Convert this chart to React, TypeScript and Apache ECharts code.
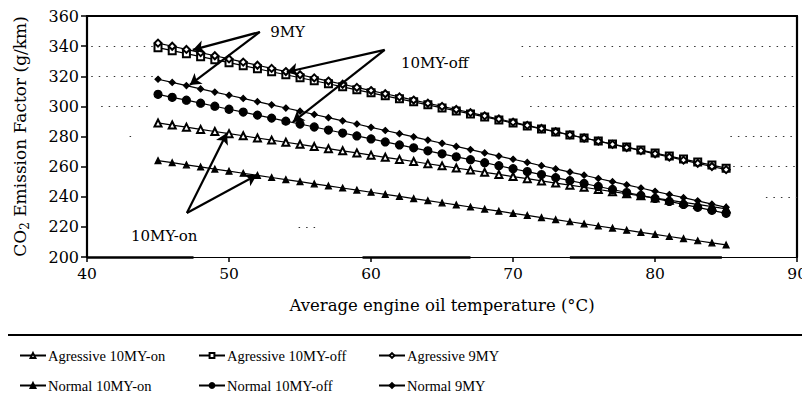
import React, { useEffect, useRef } from "react";
import * as echarts from "echarts";

const temps = [45,46,47,48,49,50,51,52,53,54,55,56,57,58,59,60,61,62,63,64,65,66,67,68,69,70,71,72,73,74,75,76,77,78,79,80,81,82,83,84,85];

const aggOn = [289,287.6,286.2,284.7,283.3,281.9,280.5,279,277.6,276.2,274.8,273.3,271.9,270.5,269.1,267.6,266.2,264.8,263.4,261.9,260.5,259.1,257.7,256.2,254.8,253.4,252,250.5,249.1,247.7,246.3,244.8,243.4,242,240.6,239.1,237.7,236.3,234.9,233.4,232];
const aggOff = [339,337,335,333,331,329,327,325,323,321,319,317,315,313,311,309,307,305,303,301,299,297,295,293,291,289,287,285,283,281,279,277,275,273,271,269,267,265,263,261,259];
const agg9 = [342,339.9,337.8,335.7,333.6,331.5,329.4,327.3,325.2,323.1,321,318.9,316.8,314.7,312.6,310.5,308.4,306.3,304.2,302.1,300,297.9,295.8,293.7,291.6,289.5,287.4,285.3,283.2,281.1,279,276.9,274.8,272.7,270.6,268.5,266.4,264.3,262.2,260.1,258];
const normOn = [264,262.6,261.2,259.8,258.4,257,255.6,254.2,252.8,251.4,250,248.6,247.2,245.8,244.4,243,241.6,240.2,238.8,237.4,236,234.6,233.2,231.8,230.4,229,227.6,226.2,224.8,223.4,222,220.6,219.2,217.8,216.4,215,213.6,212.2,210.8,209.4,208];
const normOff = [308,306,304.1,302.1,300.1,298.1,296.2,294.2,292.2,290.2,288.3,286.3,284.3,282.3,280.4,278.4,276.4,274.4,272.5,270.5,268.5,266.5,264.6,262.6,260.6,258.6,256.7,254.7,252.7,250.7,248.8,246.8,244.8,242.8,240.9,238.9,236.9,234.9,233,231,229];
const norm9 = [318,315.9,313.8,311.6,309.5,307.4,305.3,303.1,301,298.9,296.8,294.6,292.5,290.4,288.3,286.1,284,281.9,279.8,277.6,275.5,273.4,271.3,269.1,267,264.9,262.8,260.6,258.5,256.4,254.3,252.1,250,247.9,245.8,243.6,241.5,239.4,237.3,235.1,233];

const seriesNames = ["Agressive 10MY-on","Agressive 10MY-off","Agressive 9MY","Normal 10MY-on","Normal 10MY-off","Normal 9MY"];
const seriesValues = [aggOn, aggOff, agg9, normOn, normOff, norm9];
const seriesSymbols = ["emptyTriangle","emptyRect","emptyDiamond","triangle","circle","diamond"];
const seriesSymbolSizes = [7,7,7,6,8,6];

const xTicks = { min: 40, max: 90, interval: 10 };
const yTicks = { min: 200, max: 360, interval: 20 };

const annotations = [
  { label: "9MY", start: [52.17, 349.4], tips: [[47.45, 337.5], [47.24, 314.2]], at: [52.9, 349.3] },
  { label: "10MY-off", start: [60.96, 337.5], tips: [[54.07, 322.8], [54.49, 289.6]], at: [62.1, 329.0] },
  { label: "10MY-on", start: [47.03, 229.2], tips: [[49.85, 282.3], [51.95, 254.4]], at: [43.1, 214.0] },
];

const gridRemnants = [
  [340, 40.3, 44.7], [340, 70.6, 90], [320, 40.3, 44.7], [320, 70.6, 90],
  [300, 41.0, 44.3], [300, 71.2, 90], [280, 43.0, 43.2], [280, 85.3, 90],
  [260, 85.5, 90], [240, 87.8, 90], [220, 54.9, 56.2],
];
const axisSegments = [[40, 47.5], [59.4, 67.0], [74.0, 84.7]];

const FONT = "DejaVu Serif";
const LFONT = "Liberation Serif";

export default function App() {
  const ref = useRef<HTMLDivElement>(null);
  useEffect(() => {
    if (!ref.current) return;
    const chart = echarts.init(ref.current, undefined, { renderer: "svg" });
    const main = seriesNames.map((name, i) => ({
      name,
      type: "line",
      data: temps.map((t, j) => [t, seriesValues[i][j]]),
      symbol: seriesSymbols[i],
      symbolSize: seriesSymbolSizes[i],
      showAllSymbol: true,
      lineStyle: { color: "#000", width: 1.2 },
      itemStyle: { color: "#000", borderColor: "#000", borderWidth: 1.2 },
      emphasis: { disabled: true },
      z: 3,
    }));
    const arrowData: any[] = [];
    annotations.forEach((a) => {
      a.tips.forEach((tip) => arrowData.push([{ coord: a.start }, { coord: tip }]));
    });
    const extras: any[] = [
      {
        name: "_grid",
        type: "line",
        data: [],
        silent: true,
        markLine: {
          silent: true,
          symbol: "none",
          label: { show: false },
          animation: false,
          data: [
            ...gridRemnants.map((g) => [
              { coord: [g[1], g[0]], lineStyle: { type: [1.5, 6], width: 1, color: "#333" } },
              { coord: [g[2], g[0]] },
            ]),
            ...axisSegments.map((s) => [
              { coord: [s[0], 200], lineStyle: { type: "solid", width: 2.5, color: "#000" } },
              { coord: [s[1], 200] },
            ]),
          ],
        },
      },
      {
        name: "_arrows",
        type: "line",
        data: [],
        silent: true,
        markLine: {
          silent: true,
          symbol: ["none", "arrow"],
          symbolSize: [10, 11],
          label: { show: false },
          lineStyle: { type: "solid", width: 2.2, color: "#000" },
          animation: false,
          data: arrowData,
        },
        markPoint: {
          silent: true,
          symbol: "circle",
          symbolSize: 0,
          animation: false,
          label: {
            show: true,
            position: "right",
            distance: 0,
            color: "#000",
            fontFamily: FONT,
            fontSize: 15,
            formatter: (p: any) => p.name,
          },
          data: annotations.map((a) => ({ name: a.label, coord: a.at })),
        },
      },
    ];

    const legendCols = [0, 1, 2].map((c) => ({
      orient: "vertical",
      left: [14, 193, 373][c],
      top: 343,
      itemGap: 15,
      itemWidth: 26,
      itemHeight: 6,
      selectedMode: false,
      textStyle: { fontFamily: LFONT, fontSize: 14.5, color: "#000", padding: [0, 0, 0, -3] },
      data: [seriesNames[c], seriesNames[c + 3]],
    }));

    chart.setOption({
      animation: false,
      backgroundColor: "#fff",
      textStyle: { fontFamily: FONT },
      grid: { left: 87, right: 12, top: 16, bottom: 148, containLabel: false },
      legend: legendCols,
      xAxis: [
        {
          type: "value",
          ...xTicks,
          name: "Average engine oil temperature (°C)",
          nameLocation: "middle",
          nameGap: 40,
          nameTextStyle: { fontFamily: FONT, fontSize: 16.5, color: "#000" },
          axisLine: { show: true, onZero: false, lineStyle: { color: "#000", width: 1.2 } },
          axisTick: { show: true, length: 5, lineStyle: { color: "#000", width: 1.5 } },
          axisLabel: { fontFamily: FONT, fontSize: 15.5, color: "#000", margin: 9 },
          splitLine: { show: false },
        },
        {
          type: "value",
          ...xTicks,
          position: "top",
          axisLine: { show: true, onZero: false, lineStyle: { color: "#000", width: 2 } },
          axisTick: { show: false },
          axisLabel: { show: false },
          splitLine: { show: false },
        },
      ],
      yAxis: [
        {
          type: "value",
          ...yTicks,
          name: "{a|CO}{s|2}{a| Emission Factor (g/km)}",
          nameLocation: "middle",
          nameGap: 56,
          nameRotate: 90,
          nameTextStyle: {
            color: "#000",
            rich: {
              a: { fontFamily: FONT, fontSize: 17, color: "#000" },
              s: { fontFamily: FONT, fontSize: 12, color: "#000", padding: [10, 0, 0, 0] },
            },
          },
          axisLine: { show: true, onZero: false, lineStyle: { color: "#000", width: 2.2 } },
          axisTick: { show: true, length: 6, lineStyle: { color: "#000", width: 1.5 } },
          axisLabel: { fontFamily: FONT, fontSize: 16, color: "#000", margin: 8 },
          splitLine: { show: false },
        },
        {
          type: "value",
          ...yTicks,
          position: "right",
          axisLine: { show: true, onZero: false, lineStyle: { color: "#000", width: 2.2 } },
          axisTick: { show: false },
          axisLabel: { show: false },
          splitLine: { show: false },
        },
      ],
      graphic: [
        {
          type: "line",
          shape: { x1: 0, y1: 335, x2: 810, y2: 335 },
          style: { stroke: "#000", lineWidth: 2 },
        },
      ],
      series: [...main, ...extras],
    });
    return () => chart.dispose();
  }, []);
  return <div ref={ref} style={{ width: 810, height: 405, margin: -8 }} />;
}
